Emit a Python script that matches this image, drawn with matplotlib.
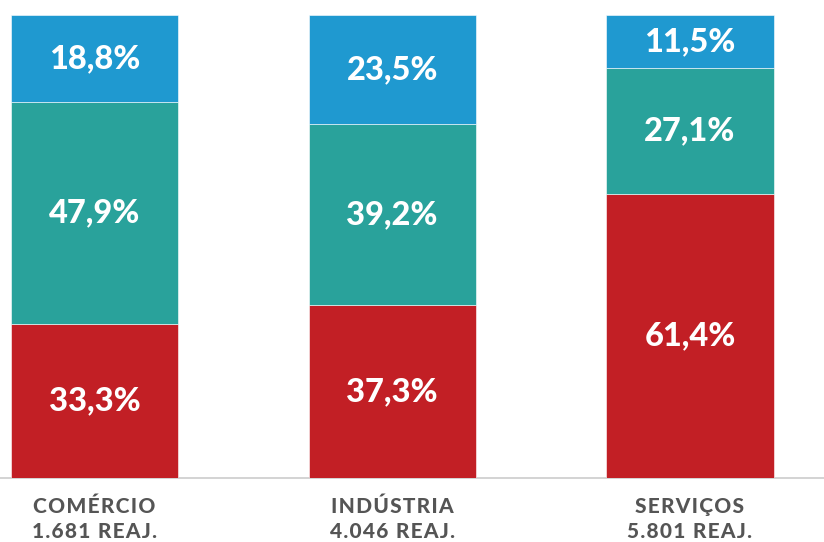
import matplotlib.pyplot as plt
import numpy as np

# data
setores = ["COMÉRCIO", "INDÚSTRIA", "SERVIÇOS"]
reajustes = ["1.681 REAJ.", "4.046 REAJ.", "5.801 REAJ."]
abaixo = [33.3, 37.3, 61.4]
igual = [47.9, 39.2, 27.1]
acima = [18.8, 23.5, 11.5]

cores = ["#C21F25", "#29A29B", "#1F99D0"]

plt.rcParams["font.family"] = ["Lato", "DejaVu Sans"]

fig = plt.figure(figsize=(8.24, 5.42), dpi=100)
ax = fig.add_axes([0, 0.118, 1, 0.854])

x = np.arange(len(setores))
largura = 0.561
base = np.zeros(len(setores))
for valores, cor in zip([abaixo, igual, acima], cores):
    barras = ax.bar(x, valores, largura, bottom=base, color=cor,
                    edgecolor="#ffffff", linewidth=0.4)
    labels = [f"{v:.1f}%".replace(".", ",") for v in valores]
    ax.bar_label(barras, labels=labels, label_type="center", color="white",
                 fontsize=23.5, fontweight="black")
    base += np.array(valores)

ax.set_xlim(-0.317, 2.45)
ax.set_ylim(0, 100)
ax.axis("off")

# linha de base
ax.axhline(0, color="#cccccc", linewidth=1.2, zorder=0, clip_on=False)


def espacar(txt):
    return "\u200a".join(txt)


for xi, s, r in zip(x, setores, reajustes):
    ax.annotate(espacar(s), (xi, 0), xytext=(0, -28), textcoords="offset pixels",
                ha="center", va="center", fontsize=15, fontweight="black",
                color="#555555", annotation_clip=False)
    ax.annotate(espacar(r), (xi, 0), xytext=(0, -53), textcoords="offset pixels",
                ha="center", va="center", fontsize=15, fontweight="black",
                color="#555555", annotation_clip=False)

fig.savefig("out.png", dpi=100)
